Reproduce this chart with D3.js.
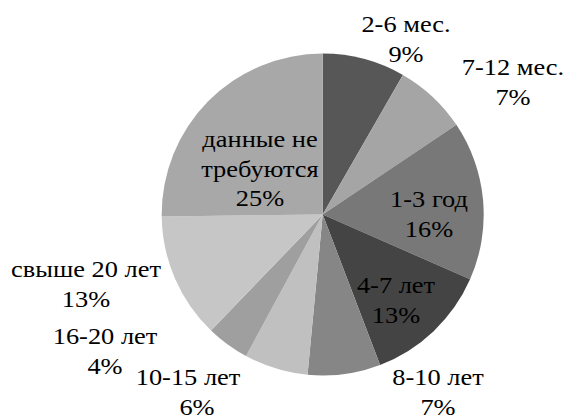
<!DOCTYPE html>
<html><head><meta charset="utf-8">
<script src="https://cdn.jsdelivr.net/npm/d3@7/dist/d3.min.js"></script>
</head><body style="margin:0">
<svg id="chart" width="565" height="418"></svg>
<script>
const categories = ["2-6 мес.", "7-12 мес.", "1-3 год", "4-7 лет", "8-10 лет", "10-15 лет", "16-20 лет", "свыше 20 лет", "данные не требуются"];
const values = [8.3, 7.3, 16.0, 12.6, 7.3, 6.4, 4.3, 12.6, 25.2];
const percentLabels = ["9%", "7%", "16%", "13%", "7%", "6%", "4%", "13%", "25%"];
const colors = ["#575757", "#a5a5a5", "#787878", "#444444", "#868686", "#c0c0c0", "#9f9f9f", "#c6c6c6", "#a8a8a8"];

// label layout: [center x, first baseline y, x shift of the percent line]
const labelLayout = [
  [406, 32, 0], [513, 75, 0], [429, 207, 0], [396, 293, 0], [438, 385, 0],
  [188, 385, 9], [105, 344, 0], [86, 277, 0], [260, 147, 0]
];
const labelLines = [
  ["2-6 мес."], ["7-12 мес."], ["1-3 год"], ["4-7 лет"], ["8-10 лет"],
  ["10-15 лет"], ["16-20 лет"], ["свыше 20 лет"], ["данные не", "требуются"]
];

const svg = d3.select("#chart");
const cx = 322.7, cy = 214.5, r = 161;
const pie = d3.pie().sort(null).value(d => d.v);
const arc = d3.arc().innerRadius(0).outerRadius(r);
const data = categories.map((c, i) => ({c, v: values[i], i}));

const g = svg.append("g").attr("transform", `translate(${cx},${cy})`);
g.selectAll("path").data(pie(data)).join("path")
  .attr("d", arc)
  .attr("fill", d => colors[d.data.i]);

const lineH = 29.5;
const sx = 1.1;
categories.forEach((c, i) => {
  const [lx, ly, pdx] = labelLayout[i];
  const lines = labelLines[i].concat([percentLabels[i]]);
  lines.forEach((ln, k) => {
    const isPct = k === lines.length - 1;
    svg.append("text")
      .attr("transform", `translate(${lx + (isPct ? pdx : 0)},${ly + k * lineH}) scale(${sx},1)`)
      .attr("text-anchor", "middle")
      .attr("fill", "#000")
      .style("font-family", "Liberation Serif")
      .style("font-size", "24px")
      .text(ln);
  });
});
</script>
</body></html>
